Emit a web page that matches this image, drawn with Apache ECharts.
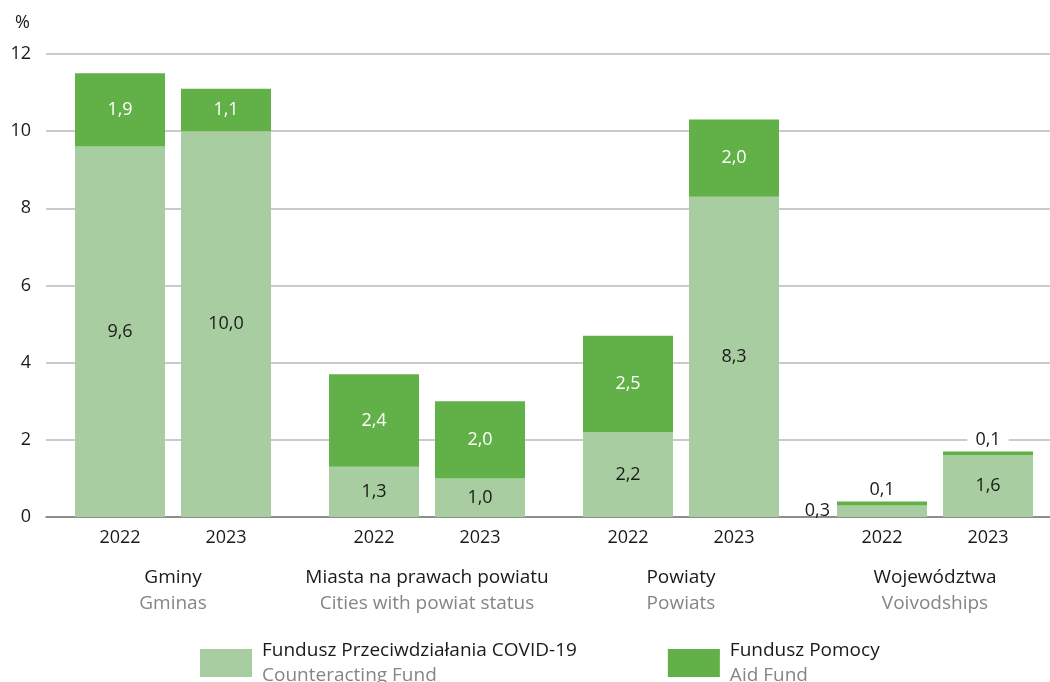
<!DOCTYPE html>
<html>
<head>
<meta charset="utf-8">
<script src="https://cdn.jsdelivr.net/npm/echarts@6/dist/echarts.min.js"></script>
<style>
  html, body { margin: 0; padding: 0; background: #fff; }
  #chart { width: 1050px; height: 682px; }
</style>
</head>
<body>
<div id="chart"></div>
<script>
// data
var years = ["2022", "2023"];
var groupsPl = ["Gminy", "Miasta na prawach powiatu", "Powiaty", "Województwa"];
var groupsEn = ["Gminas", "Cities with powiat status", "Powiats", "Voivodships"];
var covidFund = [9.6, 10.0, 1.3, 1.0, 2.2, 8.3, 0.3, 1.6];
var aidFund = [1.9, 1.1, 2.4, 2.0, 2.5, 2.0, 0.1, 0.1];
var yTicks = [0, 2, 4, 6, 8, 10, 12];
var seriesNames = ["Fundusz Przeciwdziałania COVID-19", "Fundusz Pomocy"];
var seriesNamesEn = ["Counteracting Fund", "Aid Fund"];

var FONT = "Open Sans";
var LIGHT = "#a7cda0";
var DARK = "#62b148";
var TEXT = "#1a1a1a";
var GRAY = "#858585";

function fmt(v) { return v.toFixed(1).replace(".", ","); }

var chart = echarts.init(document.getElementById("chart"));

var grids = [{ left: 46, right: 0, top: 54, bottom: 165 }];
var xAxes = [{
  gridIndex: 0, type: "category", data: [""],
  axisLine: { lineStyle: { color: "#7a7a7a", width: 1.5 } },
  axisTick: { show: false }, axisLabel: { show: false }
}];
var yAxes = [{
  gridIndex: 0, type: "value", min: yTicks[0], max: yTicks[yTicks.length - 1], interval: 2,
  name: "%", nameLocation: "end", nameGap: 22,
  nameTextStyle: { color: TEXT, fontFamily: FONT, fontSize: 18, align: "right", padding: [0, 16, 0, 0] },
  axisLine: { show: false }, axisTick: { show: false },
  axisLabel: { color: TEXT, fontFamily: FONT, fontSize: 18, margin: 15 },
  splitLine: { lineStyle: { color: "#b8b8b8", width: 1.5 } }
}];
var series = [];

var groupLefts = [67, 321, 575, 829];
groupsPl.forEach(function (g, i) {
  var gi = i + 1;
  grids.push({ left: groupLefts[i], width: 212, top: 54, bottom: 165 });
  xAxes.push({
    gridIndex: gi, type: "category", data: years,
    name: "{a|" + g + "}\n{b|" + groupsEn[i] + "}",
    nameLocation: "middle", nameGap: 48,
    nameTextStyle: {
      rich: {
        a: { color: TEXT, fontFamily: FONT, fontSize: 19, lineHeight: 26 },
        b: { color: GRAY, fontFamily: FONT, fontSize: 19, lineHeight: 26 }
      }
    },
    axisLine: { show: false }, axisTick: { show: false },
    axisLabel: { color: TEXT, fontFamily: FONT, fontSize: 18, margin: 12 }
  });
  yAxes.push({
    gridIndex: gi, type: "value", min: 0, max: 12, interval: 2, show: false,
    splitLine: { show: false }
  });

  var c = covidFund.slice(i * 2, i * 2 + 2);
  var a = aidFund.slice(i * 2, i * 2 + 2);

  series.push({
    name: seriesNames[0], type: "bar", stack: "s" + i,
    xAxisIndex: gi, yAxisIndex: gi, barWidth: 90,
    itemStyle: { color: LIGHT },
    label: { show: true, color: TEXT, fontFamily: FONT, fontSize: 18, formatter: function (p) { return fmt(p.value); } },
    data: c.map(function (v) {
      if (v < 0.5) return { value: v, label: { position: "left", distance: 7 } };
      return { value: v, label: { position: "inside" } };
    })
  });
  series.push({
    name: seriesNames[1], type: "bar", stack: "s" + i,
    xAxisIndex: gi, yAxisIndex: gi, barWidth: 90,
    itemStyle: { color: DARK },
    label: { show: true, color: "#fff", fontFamily: FONT, fontSize: 18, formatter: function (p) { return fmt(p.value); } },
    data: a.map(function (v) {
      if (v < 0.5) return {
        value: v,
        label: { position: "top", distance: 3, color: TEXT, backgroundColor: "#fff", padding: [0, 8] }
      };
      return { value: v, label: { position: "inside" } };
    })
  });
});

var option = {
  animation: false,
  backgroundColor: "#fff",
  grid: grids,
  xAxis: xAxes,
  yAxis: yAxes,
  legend: {
    data: seriesNames,
    left: 195, top: 636,
    itemWidth: 52, itemHeight: 28, itemGap: 91,
    icon: "rect",
    formatter: function (name) {
      var k = seriesNames.indexOf(name);
      return "{a|" + name + "}\n{b|" + seriesNamesEn[k] + "}";
    },
    textStyle: {
      padding: [0, 0, 0, 5],
      rich: {
        a: { color: TEXT, fontFamily: FONT, fontSize: 19, lineHeight: 25 },
        b: { color: GRAY, fontFamily: FONT, fontSize: 19, lineHeight: 25 }
      }
    }
  },
  series: series
};

chart.setOption(option);
</script>
</body>
</html>
